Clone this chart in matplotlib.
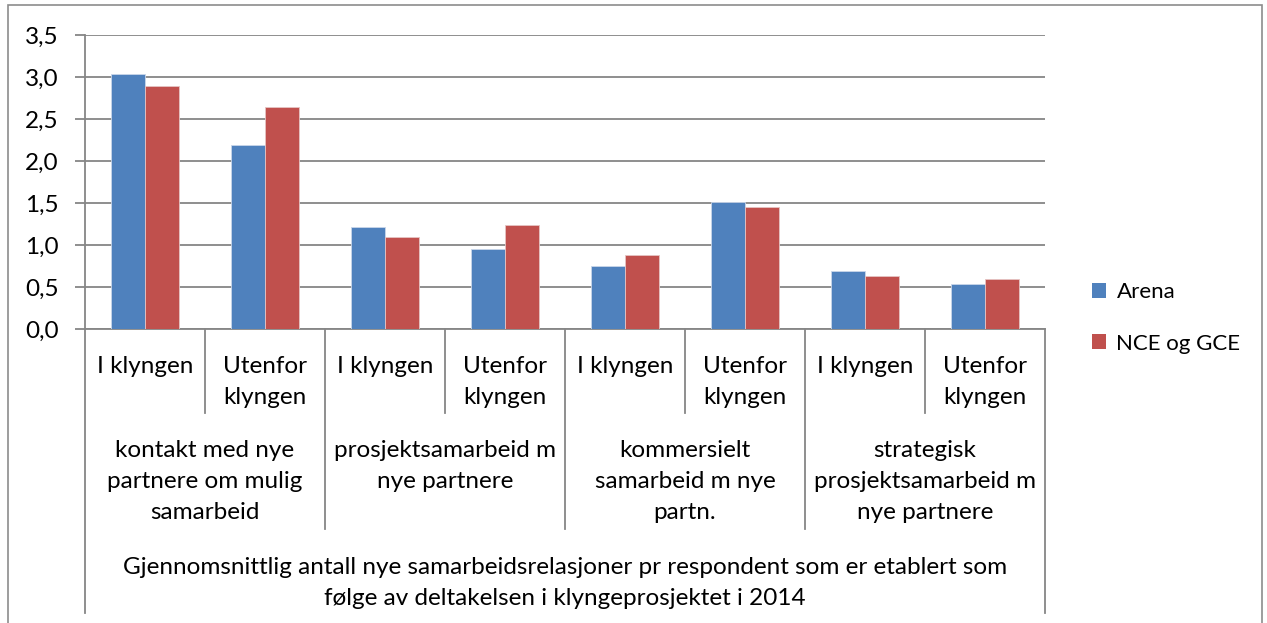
import matplotlib.pyplot as plt
from matplotlib.patches import Rectangle, Patch

# Data
sub_labels = ["I klyngen", "Utenfor\nklyngen"] * 4
group_labels = ["kontakt med nye\npartnere om mulig\nsamarbeid",
                "prosjektsamarbeid m\nnye partnere",
                "kommersielt\nsamarbeid m nye\npartn.",
                "strategisk\nprosjektsamarbeid m\nnye partnere"]
top_label = ("Gjennomsnittlig antall nye samarbeidsrelasjoner pr respondent som er etablert som\n"
             "følge av deltakelsen i klyngeprosjektet i 2014")
arena = [3.04, 2.19, 1.21, 0.95, 0.75, 1.51, 0.69, 0.53]
nce_gce = [2.89, 2.64, 1.09, 1.24, 0.88, 1.45, 0.63, 0.60]
yticks = [0.0, 0.5, 1.0, 1.5, 2.0, 2.5, 3.0, 3.5]

blue = "#4F81BD"
red = "#C0504D"
grey = "#868686"
fs = 17.5

plt.rcParams['font.family'] = ['Lato', 'DejaVu Sans']

W, H = 1267, 623
fig = plt.figure(figsize=(W / 100, H / 100), dpi=100)
fig.patch.set_facecolor("white")

# Outer chart border
fig.patches.append(Rectangle((8 / W, -0.05), (1262 - 8) / W, 1.05 - 5 / H,
                             transform=fig.transFigure, fill=False,
                             edgecolor="#8c8c8c", linewidth=1.2))

ax = fig.add_axes([85 / W, (H - 329) / H, 960 / W, 294 / H])

n = len(arena)
x = list(range(n))
bw = 1 / 3.5
ax.bar([i - bw / 2 for i in x], arena, width=bw, color=blue,
       edgecolor="#c9d6ea", linewidth=0.6, zorder=3)
ax.bar([i + bw / 2 for i in x], nce_gce, width=bw, color=red,
       edgecolor="#e6c4c3", linewidth=0.6, zorder=3)

ax.set_xlim(-0.5, n - 0.5)
ax.set_ylim(0, 3.5)
ax.set_yticks(yticks)
ax.set_yticklabels(["{:.1f}".format(v).replace(".", ",") for v in yticks],
                   fontsize=fs)
ax.tick_params(axis="y", length=7, width=1.3, color=grey, pad=12)
ax.set_xticks([])
ax.yaxis.grid(True, color=grey, linewidth=1.3, zorder=0)
for s in ["top", "right"]:
    ax.spines[s].set_visible(False)
for s in ["left", "bottom"]:
    ax.spines[s].set_color(grey)
    ax.spines[s].set_linewidth(1.3)

# Multi-level category axis
tr = ax.get_xaxis_transform()
y_sub, y_grp, y_top = -0.286, -0.68, -0.966
for i in range(n + 1):
    xp = i - 0.5
    if i == 0 or i == n:
        yb = y_top
    elif i % 2 == 0:
        yb = y_grp
    else:
        yb = y_sub
    ax.plot([xp, xp], [0, yb], transform=tr, color=grey, linewidth=1.3,
            clip_on=False)

# labels are top-aligned within each row
for i, lab in enumerate(sub_labels):
    ax.text(i, -0.091, lab, transform=tr, ha="center", va="top",
            fontsize=fs, linespacing=1.6)
for g, lab in enumerate(group_labels):
    ax.text(2 * g + 0.5, -0.377, lab, transform=tr, ha="center", va="top",
            fontsize=fs, linespacing=1.6)
ax.text((n - 1) / 2, -0.865, top_label, transform=tr, ha="center", va="center",
        fontsize=fs, linespacing=1.6)

handles = [Patch(facecolor=blue, label="Arena"),
           Patch(facecolor=red, label="NCE og GCE")]
fig.legend(handles=handles, loc="center left", bbox_to_anchor=(1072 / W, (H - 318) / H),
           frameon=False, fontsize=16, handlelength=0.65, handleheight=0.65,
           handletextpad=0.45, labelspacing=1.4)

fig.savefig("out.png", dpi=100)
